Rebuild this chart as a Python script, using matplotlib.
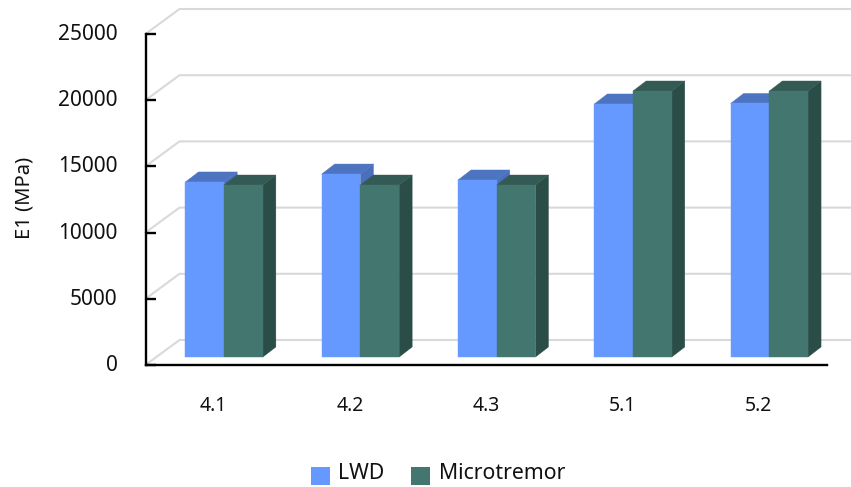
import matplotlib
matplotlib.use('Agg')
import matplotlib.pyplot as plt
from matplotlib.patches import Patch, Polygon
from matplotlib.transforms import ScaledTranslation

plt.rcParams['font.family'] = ['Noto Sans', 'DejaVu Sans']

categories = ['4.1', '4.2', '4.3', '5.1', '5.2']
lwd = [13220, 13820, 13370, 19110, 19150]
microtremor = [12990, 12990, 12990, 20090, 20090]
y_ticks = [0, 5000, 10000, 15000, 20000, 25000]

W, H = 851, 487
# axes box in pixels
left, right, top, bottom = 145.5, 827, 34, 365
px_x = 5 / (right - left)      # category units per pixel
px_y = 25000 / (bottom - top)  # MPa per pixel

# oblique 3D offsets
wall_dx, wall_dy = 34 * px_x, 25 * px_y
base_dx, base_dy = 10.5 * px_x, 8 * px_y
bar_dx, bar_dy = 13 * px_x, 10 * px_y
bar_w = 38.7 * px_x

fig = plt.figure(figsize=(W / 100, H / 100), dpi=100)
ax = fig.add_axes([left / W, 1 - bottom / H, (right - left) / W, (bottom - top) / H])
ax.set_xlim(-0.5, 4.5)
ax.set_ylim(0, 25000)
ax.patch.set_visible(False)

# back wall gridlines and the side wall diagonals
x0 = -0.5
x_end = x0 + (W - left) * px_x
for v in y_ticks:
    ax.plot([x0, x0 + wall_dx, x_end], [v, v + wall_dy, v + wall_dy], color='#d9d9d9',
            lw=1.5, clip_on=False, zorder=1, solid_joinstyle='miter')


def draw_bar(x, value, front, side, roof, z):
    xa = x + base_dx
    xb = xa + bar_w
    y0 = base_dy
    y1 = value + base_dy
    ax.add_patch(Polygon([(xb, y0), (xb + bar_dx, y0 + bar_dy), (xb + bar_dx, y1 + bar_dy), (xb, y1)],
                         fc=side, ec=side, lw=0.3, zorder=z, clip_on=False))
    ax.add_patch(Polygon([(xa, y1), (xb, y1), (xb + bar_dx, y1 + bar_dy), (xa + bar_dx, y1 + bar_dy)],
                         fc=roof, ec=roof, lw=0.3, zorder=z, clip_on=False))
    ax.add_patch(Polygon([(xa, y0), (xb, y0), (xb, y1), (xa, y1)],
                         fc=front, ec=front, lw=0.3, zorder=z + 0.1, clip_on=False))


for i in range(len(categories)):
    draw_bar(i - bar_w, lwd[i], '#6699ff', '#4a6fbd', '#4d74c0', 2 + i)
    draw_bar(i, microtremor[i], '#43766e', '#2b4d48', '#335a54', 2.5 + i)

for s in ['top', 'right']:
    ax.spines[s].set_visible(False)
for s in ['left', 'bottom']:
    ax.spines[s].set_linewidth(1.7)
    ax.spines[s].set_color('black')
    ax.spines[s].set_zorder(10)

ax.set_xticks(range(len(categories)))
ax.set_xticklabels(categories)
ax.set_yticks(y_ticks)
ax.tick_params(axis='x', length=0, pad=22.5, labelsize=14, labelcolor='#111111')
ax.tick_params(axis='y', direction='in', length=7.5, width=1.7, pad=20, labelsize=15, labelcolor='#111111')

# labels sit a little above their ticks in the original
nudge = ScaledTranslation(0, 1.5 / 72, fig.dpi_scale_trans)
for label in ax.get_yticklabels():
    label.set_transform(label.get_transform() + nudge)

ax.set_ylabel('E1 (MPa)', fontsize=14.5, color='#111111')
ax.yaxis.set_label_coords(-111 / (right - left), 0.505)

handles = [Patch(fc='#6699ff', label='LWD'), Patch(fc='#43766e', label='Microtremor')]
leg = fig.legend(handles=handles, loc='center', bbox_to_anchor=(438 / W, 1 - 477.5 / H), ncol=2, frameon=False,
                 fontsize=15.3, handlelength=0.9, handleheight=0.9, handletextpad=0.4, columnspacing=1.25,
                 labelcolor='#111111')
for t in leg.get_texts():
    t.set_y(4)

fig.savefig('out.png', dpi=100)
